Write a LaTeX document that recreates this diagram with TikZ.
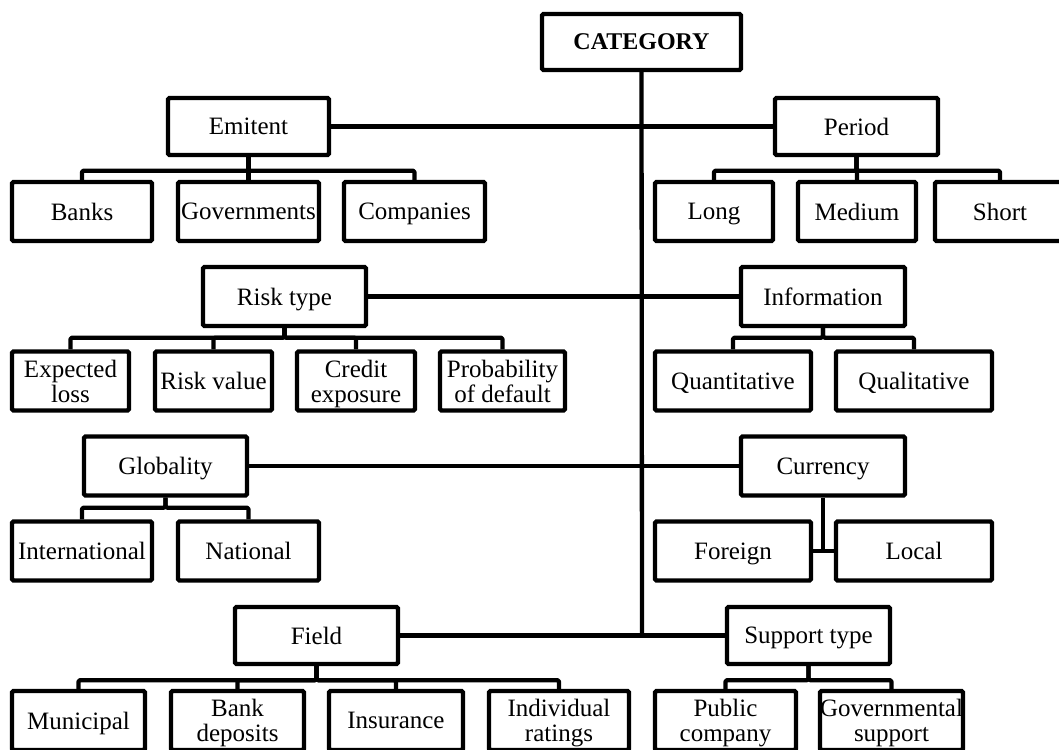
\documentclass[tikz,border=0pt]{standalone}
\usepackage{fontspec}
\setmainfont{Liberation Serif}
\begin{document}
\begin{tikzpicture}[x=1pt,y=-1pt,
  box/.style={draw, line width=4.3pt, rounded corners=1.5pt, inner sep=0pt,
    minimum width=#1, minimum height=59pt, align=center, text depth=0pt,
    font=\fontsize{25}{25}\selectfont},
  link/.style={line width=4.3pt, line join=round, rounded corners=1.5pt}]
\useasboundingbox (0,0) rectangle (1059,749);
\clip (0,0) rectangle (1059,749);

% root
\node[box=199pt, minimum height=56pt, font=\fontsize{24}{24}\selectfont\bfseries] (cat) at (641.5,42) {CATEGORY};

% second-level categories
\node[box=161pt, minimum height=57pt] (emit) at (248.5,126.5) {Emitent};
\node[box=163pt, minimum height=57pt] (per)  at (856.5,126.5) {Period};
\node[box=163pt] (risk) at (284.5,296.5) {Risk type};
\node[box=164pt] (info) at (823,296.5) {Information};
\node[box=163pt] (glob) at (165.5,466) {Globality};
\node[box=164pt] (cur)  at (823,466) {Currency};
\node[box=163pt, minimum height=57pt] (field) at (316.5,635.5) {Field};
\node[box=163pt, minimum height=57pt] (sup)   at (808.5,635.5) {Support type};

% leaves
\node[box=140pt] (banks) at (82,211.5) {Banks};
\node[box=141pt] (gov)   at (248.5,211.5) {Governments};
\node[box=141pt] (comp)  at (414.5,211.5) {Companies};
\node[box=118pt] (long)  at (714,211.5) {Long};
\node[box=118pt] (med)   at (857,211.5) {Medium};
\node[box=130pt] (short) at (1000,211.5) {Short};

\node[box=117pt] (exp)  at (70.5,381) {Expected\\loss};
\node[box=117pt] (rval) at (213.5,381) {Risk value};
\node[box=118pt] (cred) at (356,381) {Credit\\exposure};
\node[box=125pt] (prob) at (502.5,381) {Probability\\of default};
\node[box=156pt] (quan) at (733,381) {Quantitative};
\node[box=156pt] (qual) at (914,381) {Qualitative};

\node[box=140pt] (intl) at (82,551) {International};
\node[box=141pt] (nat)  at (248.5,551) {National};
\node[box=156pt] (for)  at (733,551) {Foreign};
\node[box=156pt] (loc)  at (914,551) {Local};

\node[box=133pt] (mun)  at (78.5,720.5) {Municipal};
\node[box=133pt] (bdep) at (237.5,720.5) {Bank\\deposits};
\node[box=134pt] (ins)  at (396,720.5) {Insurance};
\node[box=140pt] (ind)  at (559,720.5) {Individual\\ratings};
\node[box=141pt] (pub)  at (725.5,720.5) {Public\\company};
\node[box=141pt] (gsup) at (891.5,720.5) {Governmental\\support};

% trunk and cross bars
\coordinate (trunkend) at (642,636);
\draw[link] (cat.south) -- (trunkend);
\draw[link] (emit.east) -- (per.west);
\draw[link] (risk.east) -- (info.west);
\draw[link] (glob.east) -- (cur.west);
\draw[link] (field.east) -- (sup.west);

% parent-to-children brackets
\foreach \p/\d/\kids in {emit/13.5/{banks,gov,comp}, per/13.5/{long,med,short},
    risk/9.5/{exp,rval,cred,prob}, info/9.5/{quan,qual},
    glob/10/{intl,nat}, field/14/{mun,bdep,ins,ind}, sup/14/{pub,gsup}}{
  \foreach \c in \kids{
    \draw[link] (\p.south) -- ++(0,\d) -| (\c.north);
  }
}

% currency joins its two children from between them
\coordinate (curjoin) at (cur.south |- for.east);
\draw[link] (cur.south) -- (curjoin);
\draw[link] (for.east) -- (loc.west);
\end{tikzpicture}
\end{document}
